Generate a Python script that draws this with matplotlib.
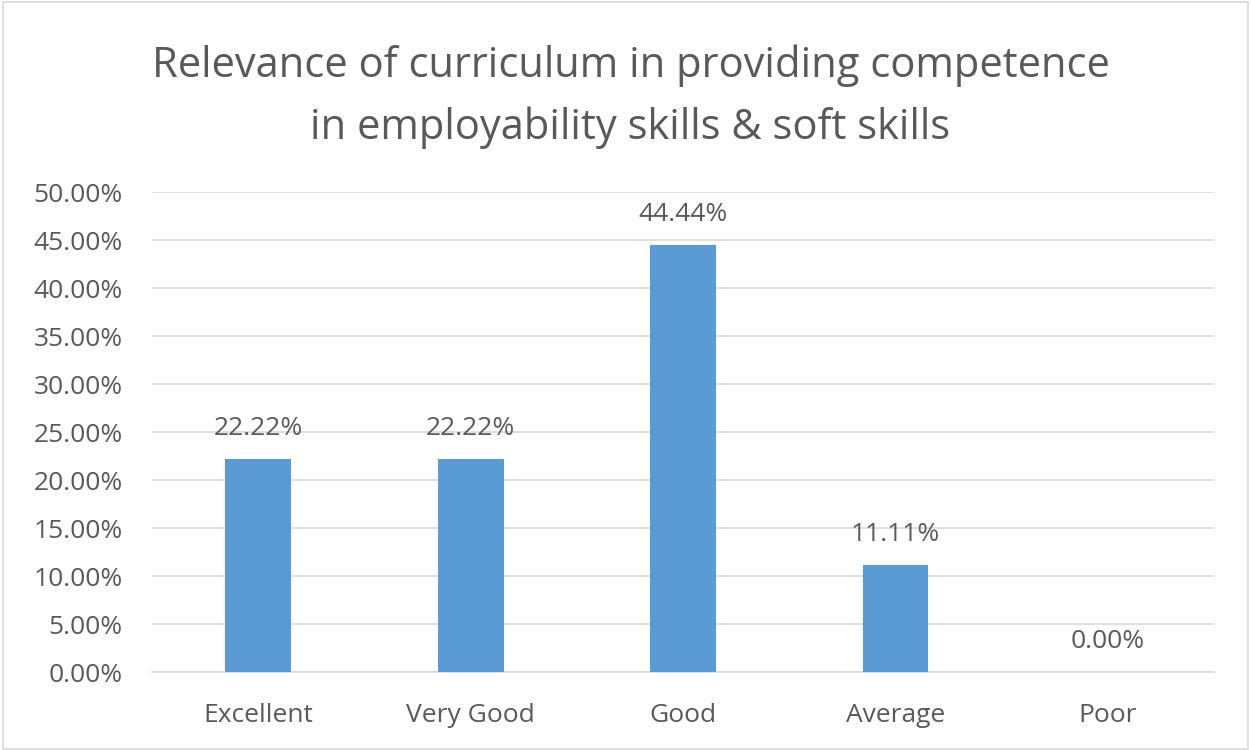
import matplotlib
matplotlib.use("Agg")
import matplotlib.pyplot as plt
from matplotlib.patches import Rectangle
from matplotlib.ticker import FuncFormatter, MultipleLocator

categories = ['Excellent', 'Very Good', 'Good', 'Average', 'Poor']
values = [22.22, 22.22, 44.44, 11.11, 0.00]
title_lines = ['Relevance of curriculum in providing competence',
               'in employability skills & soft skills']

bar_color = '#5B9BD5'
text_color = '#595959'
grid_color = '#D9D9D9'

plt.rcParams['font.family'] = ['Open Sans', 'DejaVu Sans']

fig = plt.figure(figsize=(12.51, 7.5), dpi=100)
ax = fig.add_axes([0.1215, 0.104, 0.849, 0.640])

x = range(len(categories))
ax.bar(x, values, width=0.31, color=bar_color, zorder=3)

# value labels above each bar
for xi, v in zip(x, values):
    ax.annotate(f'{v:.2f}%', xy=(xi, v), xytext=(0, 22), textcoords='offset points',
                ha='center', va='center', fontsize=19, color=text_color)

ax.set_xlim(-0.5, len(categories) - 0.5)
ax.set_ylim(0, 50)
ax.yaxis.set_major_locator(MultipleLocator(5))
ax.yaxis.set_major_formatter(FuncFormatter(lambda v, p: f'{v:.2f}%'))
ax.set_xticks(list(x))
ax.set_xticklabels(categories)
ax.tick_params(axis='both', length=0, labelsize=19, colors=text_color)
ax.tick_params(axis='x', pad=22)
ax.tick_params(axis='y', pad=21)
ax.grid(axis='y', color=grid_color, linewidth=1.2, zorder=0)
for side in ['top', 'right', 'left']:
    ax.spines[side].set_visible(False)
ax.spines['bottom'].set_color(grid_color)
ax.spines['bottom'].set_linewidth(1.2)

fig.text(0.504, 1 - 66 / 750, title_lines[0], ha='center', va='center',
         fontsize=30, color=text_color)
fig.text(0.504, 1 - 128 / 750, title_lines[1], ha='center', va='center',
         fontsize=30, color=text_color)

fig.patches.append(Rectangle((0.002, 0.002), 0.996, 0.996, transform=fig.transFigure,
                             fill=False, edgecolor='#D9D9D9', linewidth=1.2))

fig.savefig('out.png', dpi=100, facecolor='white')
